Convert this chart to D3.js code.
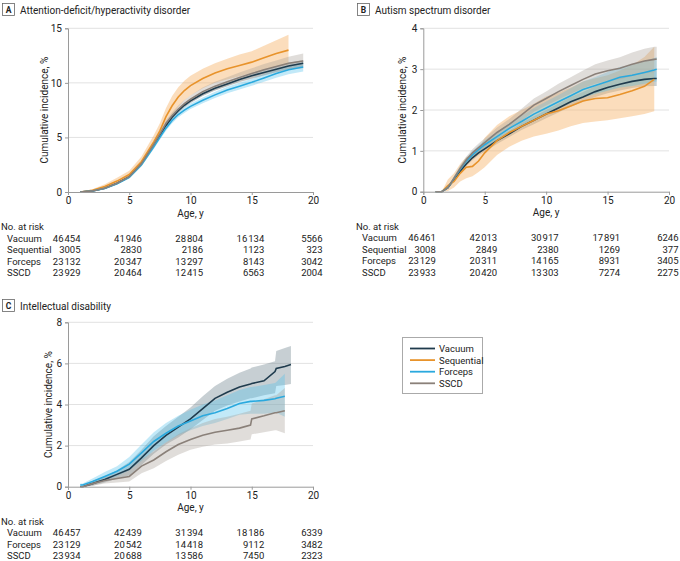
<!DOCTYPE html>
<meta charset="utf-8">
<script src="https://d3js.org/d3.v7.min.js"></script>
<style>
  body { margin: 0; background: #fff; }
  svg text { font-family: "Liberation Sans Narrow", Roboto, "Open Sans", sans-serif; fill: #222; }
</style>
<div id="chart"></div>
<script>

// series names and colours
var groups = ["Vacuum", "Sequential", "Forceps", "SSCD"];
var lineColor = {Vacuum: "#1f3b4d", Sequential: "#e8932b", Forceps: "#2aa9de", SSCD: "#8a8079"};
var bandColor = {Vacuum: "#5f7582", Sequential: "#f6b46a", Forceps: "#4fc0ec", SSCD: "#a69d94"};

var xTicks = [0, 5, 10, 15, 20];

// A: ADHD
var ageA = [1, 2, 3, 4, 5, 6, 7, 7.5, 8, 8.5, 9, 9.5, 10, 11, 12, 13, 14, 15, 16, 17, 18, 19.2];
var adhdVacuum   = [0, 0.1, 0.35, 0.8, 1.4, 2.6, 4.3, 5.2, 6.1, 6.85, 7.45, 7.95, 8.35, 9.0, 9.5, 9.9, 10.3, 10.65, 10.95, 11.25, 11.55, 11.8];
var adhdVacuumLo = [0, 0.08, 0.3, 0.72, 1.3, 2.45, 4.1, 5.0, 5.9, 6.65, 7.25, 7.75, 8.15, 8.8, 9.3, 9.7, 10.1, 10.4, 10.7, 11.0, 11.25, 11.5];
var adhdVacuumHi = [0, 0.12, 0.4, 0.88, 1.5, 2.75, 4.5, 5.4, 6.3, 7.05, 7.65, 8.15, 8.55, 9.2, 9.7, 10.1, 10.5, 10.9, 11.2, 11.5, 11.85, 12.1];
var adhdSeq   = [0, 0.15, 0.5, 1.0, 1.6, 2.8, 4.6, 5.6, 6.9, 7.9, 8.7, 9.3, 9.75, 10.4, 10.9, 11.3, 11.6, 11.9, 12.3, 12.7, 13.0, null];
var adhdSeqLo = [0, 0.05, 0.3, 0.7, 1.25, 2.35, 4.0, 4.9, 6.1, 7.0, 7.8, 8.4, 8.85, 9.5, 10.0, 10.3, 10.6, 10.9, 11.2, 11.5, 11.7, null];
var adhdSeqHi = [0, 0.25, 0.7, 1.3, 1.95, 3.25, 5.2, 6.3, 7.7, 8.8, 9.6, 10.2, 10.65, 11.3, 11.8, 12.2, 12.6, 12.9, 13.4, 13.9, 14.4, null];
var adhdForceps   = [0, 0.1, 0.33, 0.75, 1.35, 2.5, 4.15, 5.0, 5.85, 6.55, 7.1, 7.5, 7.85, 8.4, 8.9, 9.35, 9.7, 10.05, 10.45, 10.85, 11.2, 11.45];
var adhdForcepsLo = [0, 0.07, 0.27, 0.66, 1.24, 2.35, 3.95, 4.78, 5.62, 6.3, 6.85, 7.25, 7.6, 8.13, 8.62, 9.05, 9.4, 9.73, 10.1, 10.48, 10.8, 11.05];
var adhdForcepsHi = [0, 0.13, 0.39, 0.84, 1.46, 2.65, 4.35, 5.22, 6.08, 6.8, 7.35, 7.75, 8.1, 8.67, 9.18, 9.65, 10.0, 10.37, 10.8, 11.22, 11.6, 11.85];
var adhdSscd   = [0, 0.1, 0.35, 0.8, 1.4, 2.6, 4.35, 5.3, 6.3, 7.0, 7.6, 8.1, 8.5, 9.2, 9.7, 10.1, 10.5, 10.85, 11.2, 11.5, 11.8, 12.0];
var adhdSscdLo = [0, 0.07, 0.28, 0.7, 1.28, 2.43, 4.12, 5.05, 6.02, 6.7, 7.28, 7.76, 8.15, 8.82, 9.3, 9.68, 10.05, 10.37, 10.68, 10.95, 11.2, 11.35];
var adhdSscdHi = [0, 0.13, 0.42, 0.9, 1.52, 2.77, 4.58, 5.55, 6.58, 7.3, 7.92, 8.44, 8.85, 9.58, 10.1, 10.52, 10.95, 11.33, 11.72, 12.05, 12.4, 12.7];
var riskA = [[46454, 41946, 28804, 16134, 5566], [3005, 2830, 2186, 1123, 323], [23132, 20347, 13297, 8143, 3042], [23929, 20464, 12415, 6563, 2004]];

// B: autism spectrum disorder
var ageB = [1, 1.5, 2, 2.5, 3, 3.5, 4, 4.5, 5, 6, 7, 8, 9, 10, 11, 12, 13, 14, 15, 16, 17, 18, 18.8, 19];
var asdVacuum   = [0, 0, 0.1, 0.3, 0.5, 0.68, 0.83, 0.95, 1.05, 1.25, 1.42, 1.6, 1.75, 1.9, 2.05, 2.2, 2.32, 2.45, 2.55, 2.63, 2.7, 2.75, 2.77, 2.77];
var asdVacuumLo = [0, 0, 0.08, 0.27, 0.46, 0.63, 0.77, 0.89, 0.98, 1.17, 1.34, 1.51, 1.65, 1.8, 1.94, 2.08, 2.2, 2.32, 2.41, 2.48, 2.54, 2.58, 2.59, 2.59];
var asdVacuumHi = [0, 0, 0.12, 0.33, 0.54, 0.73, 0.89, 1.01, 1.12, 1.33, 1.5, 1.69, 1.85, 2.0, 2.16, 2.32, 2.44, 2.58, 2.69, 2.78, 2.86, 2.92, 2.95, 2.95];
var asdSeq   = [0, 0, 0.15, 0.25, 0.45, 0.6, 0.62, 0.75, 0.95, 1.25, 1.45, 1.6, 1.75, 1.9, 1.98, 2.1, 2.22, 2.28, 2.3, 2.38, 2.47, 2.58, 2.75, null];
var asdSeqLo = [0, 0, 0.02, 0.1, 0.25, 0.33, 0.38, 0.48, 0.6, 0.9, 1.1, 1.25, 1.35, 1.42, 1.5, 1.6, 1.68, 1.72, 1.75, 1.8, 1.85, 1.9, 1.97, null];
var asdSeqHi = [0, 0, 0.3, 0.45, 0.68, 0.85, 0.9, 1.05, 1.32, 1.63, 1.85, 2.0, 2.15, 2.33, 2.43, 2.55, 2.7, 2.78, 2.85, 2.97, 3.1, 3.3, 3.55, null];
var asdForceps   = [0, 0, 0.1, 0.32, 0.55, 0.75, 0.9, 1.03, 1.15, 1.35, 1.55, 1.72, 1.9, 2.05, 2.2, 2.35, 2.5, 2.6, 2.7, 2.8, 2.85, 2.92, 2.98, 3.0];
var asdForcepsLo = [0, 0, 0.07, 0.27, 0.48, 0.67, 0.81, 0.93, 1.04, 1.23, 1.42, 1.58, 1.75, 1.89, 2.03, 2.17, 2.3, 2.39, 2.47, 2.55, 2.59, 2.64, 2.69, 2.7];
var asdForcepsHi = [0, 0, 0.13, 0.37, 0.62, 0.83, 0.99, 1.13, 1.26, 1.47, 1.68, 1.86, 2.05, 2.21, 2.37, 2.53, 2.7, 2.81, 2.93, 3.05, 3.11, 3.2, 3.27, 3.3];
var asdSscd   = [0, 0, 0.1, 0.33, 0.57, 0.78, 0.95, 1.08, 1.2, 1.45, 1.65, 1.88, 2.12, 2.28, 2.45, 2.6, 2.75, 2.88, 2.96, 3.02, 3.12, 3.2, 3.24, 3.25];
var asdSscdLo = [0, 0, 0.07, 0.28, 0.5, 0.7, 0.86, 0.98, 1.09, 1.33, 1.52, 1.73, 1.96, 2.11, 2.26, 2.4, 2.53, 2.64, 2.71, 2.75, 2.83, 2.9, 2.93, 2.95];
var asdSscdHi = [0, 0, 0.13, 0.38, 0.64, 0.86, 1.04, 1.18, 1.31, 1.57, 1.78, 2.03, 2.28, 2.45, 2.64, 2.8, 2.97, 3.12, 3.21, 3.29, 3.41, 3.5, 3.55, 3.55];
var riskB = [[46461, 42013, 30917, 17891, 6246], [3008, 2849, 2380, 1269, 377], [23129, 20311, 14165, 8931, 3405], [23933, 20420, 13303, 7274, 2275]];

// C: intellectual disability (no sequential group)
var ageC = [1, 1.2, 2, 3, 4, 5, 6, 7, 8, 9, 10, 11, 12, 13, 14, 14.9, 15, 16, 16.9, 17, 17.7, 18.2];
var idVacuum   = [0, 0, 0.15, 0.35, 0.6, 0.85, 1.4, 2.0, 2.5, 2.9, 3.3, 3.8, 4.3, 4.6, 4.85, 5.0, 5.02, 5.15, 5.6, 5.75, 5.85, 5.95];
var idVacuumLo = [0, 0, 0.05, 0.2, 0.4, 0.55, 1.05, 1.6, 2.05, 2.4, 2.8, 3.25, 3.7, 3.95, 4.15, 4.3, 4.3, 4.45, 4.55, 4.9, 4.95, 5.0];
var idVacuumHi = [0, 0, 0.28, 0.5, 0.8, 1.2, 1.8, 2.45, 2.95, 3.4, 3.85, 4.4, 4.9, 5.25, 5.55, 5.75, 5.8, 5.95, 6.1, 6.6, 6.75, 6.85];
var idForceps   = [0.08, 0.08, 0.25, 0.5, 0.75, 1.1, 1.65, 2.2, 2.6, 2.95, 3.2, 3.45, 3.6, 3.8, 4.05, 4.15, 4.15, 4.2, 4.28, 4.3, 4.4, null];
var idForcepsLo = [0, 0, 0.12, 0.3, 0.5, 0.8, 1.25, 1.75, 2.15, 2.5, 2.75, 2.95, 3.1, 3.3, 3.5, 3.55, 3.55, 3.55, 3.6, 3.6, 3.4, null];
var idForcepsHi = [0.15, 0.15, 0.4, 0.72, 1.0, 1.45, 2.05, 2.65, 3.1, 3.45, 3.75, 4.0, 4.2, 4.45, 4.7, 4.85, 4.85, 4.95, 5.05, 5.1, 5.5, null];
var idSscd   = [0, 0, 0.15, 0.3, 0.4, 0.5, 1.0, 1.3, 1.7, 2.05, 2.3, 2.5, 2.65, 2.75, 2.85, 3.0, 3.3, 3.45, 3.6, 3.6, 3.7, null];
var idSscdLo = [0, 0, 0.05, 0.15, 0.2, 0.25, 0.65, 0.9, 1.25, 1.55, 1.8, 1.95, 2.05, 2.1, 2.2, 2.3, 2.55, 2.65, 2.75, 2.75, 2.6, null];
var idSscdHi = [0, 0, 0.28, 0.45, 0.62, 0.8, 1.35, 1.7, 2.15, 2.55, 2.85, 3.1, 3.3, 3.4, 3.55, 3.7, 4.05, 4.25, 4.45, 4.45, 4.8, null];
var riskC = [[46457, 42439, 31394, 18186, 6339], [23129, 20542, 14418, 9112, 3482], [23934, 20688, 13586, 7450, 2323]];

// panels: layout and which arrays belong to them
var panels = [
  {letter: "A", title: "Attention-deficit/hyperactivity disorder", left: 0, top: 0,
   x0: 68, x1: 313, y0: 192, y1: 28.3, yMax: 15, yTicks: [0, 5, 10, 15], ylabX: 44,
   ages: ageA,
   series: [
     {name: "Vacuum", v: adhdVacuum, lo: adhdVacuumLo, hi: adhdVacuumHi},
     {name: "Sequential", v: adhdSeq, lo: adhdSeqLo, hi: adhdSeqHi},
     {name: "Forceps", v: adhdForceps, lo: adhdForcepsLo, hi: adhdForcepsHi},
     {name: "SSCD", v: adhdSscd, lo: adhdSscdLo, hi: adhdSscdHi}],
   riskGroups: groups, risk: riskA},
  {letter: "B", title: "Autism spectrum disorder", left: 355, top: 0,
   x0: 423.3, x1: 669, y0: 191.7, y1: 28.3, yMax: 4, yTicks: [0, 1, 2, 3, 4], ylabX: 402,
   ages: ageB,
   series: [
     {name: "Vacuum", v: asdVacuum, lo: asdVacuumLo, hi: asdVacuumHi},
     {name: "Sequential", v: asdSeq, lo: asdSeqLo, hi: asdSeqHi},
     {name: "Forceps", v: asdForceps, lo: asdForcepsLo, hi: asdForcepsHi},
     {name: "SSCD", v: asdSscd, lo: asdSscdLo, hi: asdSscdHi}],
   riskGroups: groups, risk: riskB},
  {letter: "C", title: "Intellectual disability", left: 0, top: 296,
   x0: 68, x1: 313, y0: 486.7, y1: 322.3, yMax: 8, yTicks: [0, 2, 4, 6, 8], ylabX: 48,
   ages: ageC,
   series: [
     {name: "Vacuum", v: idVacuum, lo: idVacuumLo, hi: idVacuumHi},
     {name: "Forceps", v: idForceps, lo: idForcepsLo, hi: idForcepsHi},
     {name: "SSCD", v: idSscd, lo: idSscdLo, hi: idSscdHi}],
   riskGroups: ["Vacuum", "Forceps", "SSCD"], risk: riskC}
];

var svg = d3.select("#chart").append("svg")
    .attr("width", 680)
    .attr("height", 561);

svg.append("rect").attr("width", 680).attr("height", 561).attr("fill", "#fff");

// hair space only for 5+ digit numbers, like the journal style
function fmtN(n) {
  var s = String(n);
  return s.length > 4 ? s.slice(0, s.length - 3) + "\u200A" + s.slice(-3) : s;
}

panels.forEach(function(p) {
  var g = svg.append("g");

  // panel letter + title
  g.append("rect")
    .attr("x", p.left + 2.5).attr("y", p.top + 3.5)
    .attr("width", 12).attr("height", 12)
    .attr("fill", "#fff").attr("stroke", "#666").attr("stroke-width", 0.8);
  g.append("text")
    .attr("x", p.left + 8.5).attr("y", p.top + 13)
    .attr("text-anchor", "middle")
    .style("font-size", "8.5px").style("font-weight", "bold")
    .text(p.letter);
  g.append("text")
    .attr("x", p.left + 20).attr("y", p.top + 13.5)
    .style("font-size", "10px")
    .text(p.title);

  var x = d3.scaleLinear().domain([0, 20]).range([p.x0, p.x1]);
  var y = d3.scaleLinear().domain([0, p.yMax]).range([p.y0, p.y1]);

  // gridlines
  g.selectAll(".grid")
    .data(p.yTicks.slice(1))
    .enter().append("line")
      .attr("x1", x(0)).attr("x2", x(20))
      .attr("y1", function(d) { return y(d); })
      .attr("y2", function(d) { return y(d); })
      .attr("stroke", "#e2e2e2").attr("stroke-width", 1);

  // confidence bands
  p.series.forEach(function(s) {
    var pts = p.ages.map(function(a, i) { return {a: a, lo: s.lo[i], hi: s.hi[i]}; })
      .filter(function(d) { return d.lo != null; });
    g.append("path")
      .datum(pts)
      .attr("fill", bandColor[s.name])
      .attr("fill-opacity", s.name == "Sequential" ? 0.45 : 0.35)
      .attr("d", d3.area()
        .x(function(d) { return x(d.a); })
        .y0(function(d) { return y(d.lo); })
        .y1(function(d) { return y(d.hi); }));
  });

  // lines
  p.series.forEach(function(s) {
    var pts = p.ages.map(function(a, i) { return {a: a, v: s.v[i]}; })
      .filter(function(d) { return d.v != null; });
    g.append("path")
      .datum(pts)
      .attr("fill", "none")
      .attr("stroke", lineColor[s.name])
      .attr("stroke-width", 1.6)
      .attr("d", d3.line()
        .x(function(d) { return x(d.a); })
        .y(function(d) { return y(d.v); }));
  });

  // axes
  var xAxis = g.append("g")
    .attr("transform", "translate(0," + p.y0 + ")")
    .call(d3.axisBottom(x).tickValues(xTicks).tickSize(3).tickPadding(2));
  var yAxis = g.append("g")
    .attr("transform", "translate(" + p.x0 + ",0)")
    .call(d3.axisLeft(y).tickValues(p.yTicks).tickFormat(d3.format("d")).tickSize(3).tickPadding(3));
  [xAxis, yAxis].forEach(function(ax) {
    ax.select(".domain").attr("stroke", "#9a9a9a");
    ax.selectAll(".tick line").attr("stroke", "#9a9a9a");
    ax.selectAll("text").style("font-size", "10px").attr("fill", "#222");
  });

  g.append("text")
    .attr("x", (p.x0 + p.x1) / 2).attr("y", p.y0 + 24.5)
    .attr("text-anchor", "middle")
    .style("font-size", "10px")
    .text("Age, y");

  g.append("text")
    .attr("transform", "translate(" + p.ylabX + "," + ((p.y0 + p.y1) / 2) + ") rotate(-90)")
    .attr("text-anchor", "middle")
    .attr("dy", "0.35em")
    .style("font-size", "10px")
    .text("Cumulative incidence, %");

  // number at risk table
  var t0 = p.y0 + 38;
  g.append("text")
    .attr("x", p.left + 1).attr("y", t0)
    .style("font-size", "9.5px")
    .text("No. at risk");
  p.riskGroups.forEach(function(name, r) {
    var ry = t0 + 11.5 * (r + 1);
    g.append("text")
      .attr("x", p.left + 7).attr("y", ry)
      .style("font-size", "9.5px")
      .text(name);
    g.selectAll(null)
      .data(p.risk[r])
      .enter().append("text")
        .attr("x", function(d, i) { return x(xTicks[i]) + (i == 4 ? 9.5 : 12.5); })
        .attr("y", ry)
        .attr("text-anchor", "end")
        .style("font-size", "9.5px")
        .text(fmtN);
  });
});

// legend
var leg = svg.append("g");
leg.append("rect")
  .attr("x", 402.5).attr("y", 337.5)
  .attr("width", 80).attr("height", 56)
  .attr("fill", "#fff").attr("stroke", "#aaa").attr("stroke-width", 1);
groups.forEach(function(name, i) {
  var ly = 348.5 + i * 11.6;
  leg.append("line")
    .attr("x1", 410).attr("x2", 435)
    .attr("y1", ly).attr("y2", ly)
    .attr("stroke", lineColor[name]).attr("stroke-width", 1.8);
  leg.append("text")
    .attr("x", 439).attr("y", ly + 3.5)
    .style("font-size", "9.5px")
    .text(name);
});

</script>
